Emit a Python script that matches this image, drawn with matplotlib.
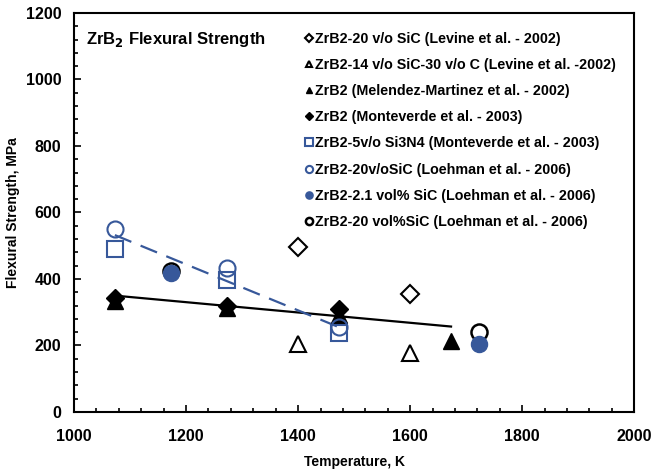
import matplotlib.pyplot as plt

plt.rcParams['font.family'] = ['Liberation Sans', 'DejaVu Sans']
plt.rcParams['font.weight'] = 'bold'

blue = '#37589a'

# data
levine_sic_T = [1400, 1600]
levine_sic_S = [497, 355]
levine_c_T = [1400, 1600]
levine_c_S = [203, 178]
melendez_T = [1073, 1273, 1473, 1673]
melendez_S = [335, 312, 292, 214]
monte_T = [1073, 1273, 1473]
monte_S = [343, 320, 310]
monte_si3n4_T = [1073, 1273, 1473]
monte_si3n4_S = [490, 398, 238]
loeh_20_T = [1073, 1273, 1473]
loeh_20_S = [550, 432, 256]
loeh_21_T = [1173, 1723]
loeh_21_S = [418, 204]
loeh_20vol_T = [1173, 1723]
loeh_20vol_S = [425, 241]

fit_black_T = [1073, 1673]
fit_black_S = [350, 257]
fit_blue_T = [1073, 1473]
fit_blue_S = [532, 255]

fig = plt.figure(figsize=(6.53, 4.70), dpi=100)
ax = fig.add_axes([0.1133, 0.1234, 0.858, 0.849])

ms = 11
ax.plot(fit_black_T, fit_black_S, color='black', lw=1.6, zorder=1)
ax.plot(fit_blue_T, fit_blue_S, color=blue, lw=1.6, dashes=(8, 4.5), zorder=1)

ax.plot(levine_sic_T, levine_sic_S, 'D', ms=ms * 0.85, mfc='white', mec='black', mew=1.5, ls='none',
        label='ZrB2-20 v/o SiC (Levine et al. - 2002)')
ax.plot(levine_c_T, levine_c_S, '^', ms=ms, mfc='white', mec='black', mew=1.5, ls='none',
        label='ZrB2-14 v/o SiC-30 v/o C (Levine et al. -2002)')
ax.plot(melendez_T, melendez_S, '^', ms=ms, color='black', ls='none',
        label='ZrB2 (Melendez-Martinez et al. - 2002)')
ax.plot(monte_T, monte_S, 'D', ms=ms * 0.85, color='black', ls='none',
        label='ZrB2 (Monteverde et al. - 2003)')
ax.plot(monte_si3n4_T, monte_si3n4_S, 's', ms=ms * 1.05, mfc='none', mec=blue, mew=1.5, ls='none',
        label='ZrB2-5v/o Si3N4 (Monteverde et al. - 2003)')
ax.plot(loeh_20_T, loeh_20_S, 'o', ms=ms * 1.05, mfc='none', mec=blue, mew=1.5, ls='none',
        label='ZrB2-20v/oSiC (Loehman et al. - 2006)')
ax.plot(loeh_20vol_T, loeh_20vol_S, 'o', ms=ms * 1.05, mfc='white', mec='black', mew=1.8, ls='none',
        label='ZrB2-20 vol%SiC (Loehman et al. - 2006)', zorder=3)
ax.plot(loeh_21_T, loeh_21_S, 'o', ms=ms * 1.05, color=blue, ls='none',
        label='ZrB2-2.1 vol% SiC (Loehman et al. - 2006)', zorder=4)

handles, labels = ax.get_legend_handles_labels()
order = [0, 1, 2, 3, 4, 5, 7, 6]
leg = ax.legend([handles[i] for i in order], [labels[i] for i in order],
                loc='upper left', bbox_to_anchor=(0.39, 0.985), frameon=False,
                markerscale=0.45, handlelength=0.5, handletextpad=0.15,
                labelspacing=0.85, prop={'size': 10.3, 'weight': 'bold'})

ax.text(0.022, 0.933, 'ZrB$_\\mathbf{2}$ Flexural Strength', transform=ax.transAxes,
        fontsize=12, fontweight='bold', va='center', ha='left')

ax.set_xlim(1000, 2000)
ax.set_ylim(0, 1200)
ax.set_xticks([1000, 1200, 1400, 1600, 1800, 2000])
ax.set_yticks([0, 200, 400, 600, 800, 1000, 1200])
ax.set_xticks(range(1000, 2001, 40), minor=True)
ax.set_yticks(range(0, 1201, 40), minor=True)
ax.tick_params(which='both', direction='in', top=False, right=False, labelsize=11.5, width=1.2)
ax.tick_params(which='major', length=5)
ax.tick_params(axis='y', which='major', pad=9)
ax.tick_params(axis='x', which='major', pad=12.5)
ax.tick_params(which='minor', length=3)
for lab in ax.get_xticklabels() + ax.get_yticklabels():
    lab.set_fontweight('bold')
for sp in ax.spines.values():
    sp.set_linewidth(1.5)

ax.set_xlabel('Temperature, K', fontsize=10, fontweight='bold', labelpad=8)
ax.set_ylabel('Flexural Strength, MPa', fontsize=10, fontweight='bold', labelpad=4)

fig.savefig('out.png', dpi=100)
